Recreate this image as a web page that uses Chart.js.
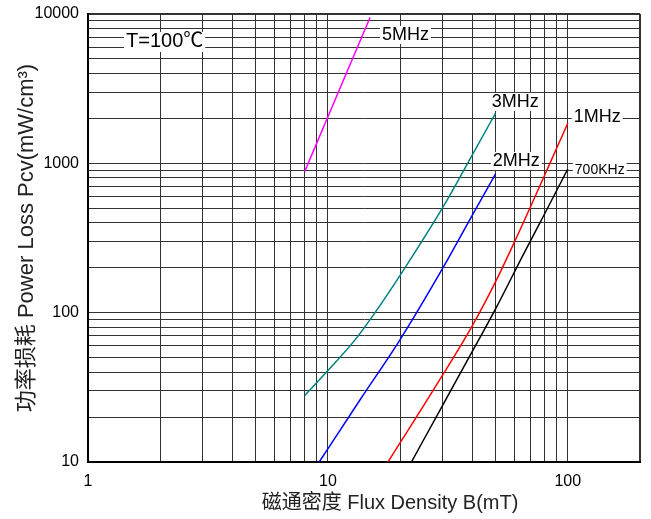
<!DOCTYPE html>
<html>
<head>
<meta charset="utf-8">
<script src="https://cdn.jsdelivr.net/npm/chart.js@4.4.0/dist/chart.umd.min.js"></script>
<style>
  html, body { margin: 0; padding: 0; background: #fff; }
  #wrap { width: 651px; height: 519px; }
</style>
</head>
<body>
<div id="wrap"><canvas id="lossChart"></canvas></div>
<script>
const font = "'Liberation Sans', 'Noto Sans CJK SC', sans-serif";

// B (mT) / Pcv (mW/cm3)
const b5MHz = [8, 15];
const p5MHz = [880, 9520];
const b3MHz = [8, 10, 13, 17, 23.4, 31, 40, 50];
const p3MHz = [27.8, 41, 66, 120, 263, 547, 1140, 2170];
const b2MHz = [9.2, 13.6, 20, 30.2, 39.7, 50];
const p2MHz = [10, 26, 66, 200, 440, 850];
const b1MHz = [17.8, 27.5, 39.7, 49.6, 60.1, 85.5, 100];
const p1MHz = [10, 30.3, 80, 157, 300, 1054, 1857];
const b700k = [22.3, 30, 40, 50, 65, 80, 100];
const p700k = [10, 23.8, 55, 106, 242, 458, 916];

const xTickLabels = [1, 10, 100];
const yTickLabels = [10, 100, 1000, 10000];

// grid lines at every 1..9 of each decade
function logGrid(from, to, last) {
  const out = [];
  for (let d = from; d < to; d *= 10) {
    for (let m = 1; m < 10; m++) out.push(m * d);
  }
  out.push(last);
  return out;
}
const gridX = logGrid(1, 200, 200);
const gridY = logGrid(10, 10000, 10000);

const pts = (xs, ys) => xs.map((v, i) => ({ x: v, y: ys[i] }));

function series(label, xs, ys, color) {
  return {
    label: label,
    data: pts(xs, ys),
    borderColor: color,
    borderWidth: 1.5,
    pointRadius: 0,
    showLine: true,
    cubicInterpolationMode: 'monotone',
    fill: false
  };
}

// text boxes drawn on the plot, placed in data coordinates
const notes = [
  { text: 'T=100\u2103', b: 1.44, p: 6500, size: 20 },
  { text: '5MHz', b: 16.8, p: 7244, size: 18 },
  { text: '3MHz', b: 48.2, p: 2577, size: 18 },
  { text: '2MHz', b: 48.7, p: 1038, size: 18 },
  { text: '1MHz', b: 105.9, p: 2046, size: 18 },
  { text: '700KHz', b: 107, p: 903, size: 14 }
];

const annot = {
  id: 'annot',
  afterDraw(chart) {
    const { ctx, scales: { x, y } } = chart;
    ctx.save();
    ctx.textBaseline = 'middle';
    ctx.textAlign = 'left';
    notes.forEach(n => {
      ctx.font = n.size + 'px ' + font;
      const px = x.getPixelForValue(n.b), py = y.getPixelForValue(n.p);
      const w = ctx.measureText(n.text).width;
      ctx.fillStyle = '#fff';
      ctx.fillRect(px - 2, py - n.size / 2, w + 4, n.size);
      ctx.fillStyle = '#000';
      ctx.fillText(n.text, px, py);
    });

    // axis titles
    ctx.fillStyle = '#222';
    ctx.font = '20px ' + font;
    ctx.textAlign = 'center';
    ctx.fillText('磁通密度 Flux Density B(mT)', 390, 503);
    ctx.translate(27, 238);
    ctx.rotate(-Math.PI / 2);
    ctx.font = '22px ' + font;
    ctx.fillText('功率损耗 Power Loss Pcv(mW/cm\u00B3)', 0, 0);
    ctx.restore();
  }
};

new Chart(document.getElementById('lossChart'), {
  type: 'scatter',
  data: {
    datasets: [
      series('5MHz', b5MHz, p5MHz, '#ff00ff'),
      series('3MHz', b3MHz, p3MHz, '#008080'),
      series('2MHz', b2MHz, p2MHz, '#0000ff'),
      series('1MHz', b1MHz, p1MHz, '#ff0000'),
      series('700KHz', b700k, p700k, '#000000')
    ]
  },
  options: {
    responsive: true,
    maintainAspectRatio: false,
    animation: false,
    layout: { padding: { top: 14, right: 11, left: 0, bottom: 0 } },
    plugins: { legend: { display: false }, tooltip: { enabled: false } },
    scales: {
      x: {
        type: 'logarithmic',
        min: 1,
        max: 200,
        afterBuildTicks: s => { s.ticks = gridX.map(v => ({ value: v })); },
        afterFit: s => { s.height = 57; s.paddingLeft = 0; s.paddingRight = 0; },
        ticks: {
          autoSkip: false,
          maxRotation: 0,
          padding: 10,
          color: '#000',
          font: { family: font, size: 16 },
          callback: v => xTickLabels.includes(v) ? String(v) : ''
        },
        grid: {
          color: '#333',
          drawTicks: false,
          lineWidth: c => (c.tick && c.tick.value === 200) ? 2 : 1
        },
        border: { color: '#000', width: 2 }
      },
      y: {
        type: 'logarithmic',
        min: 10,
        max: 10000,
        afterBuildTicks: s => { s.ticks = gridY.map(v => ({ value: v })); },
        afterFit: s => { s.width = 88; s.paddingTop = 0; s.paddingBottom = 0; },
        ticks: {
          autoSkip: false,
          padding: 9,
          color: '#000',
          font: { family: font, size: 16 },
          callback: v => yTickLabels.includes(v) ? String(v) : ''
        },
        grid: {
          color: '#333',
          drawTicks: false,
          lineWidth: c => (c.tick && c.tick.value === 10000) ? 2 : 1
        },
        border: { color: '#000', width: 2 }
      }
    }
  },
  plugins: [annot]
});
</script>
</body>
</html>
